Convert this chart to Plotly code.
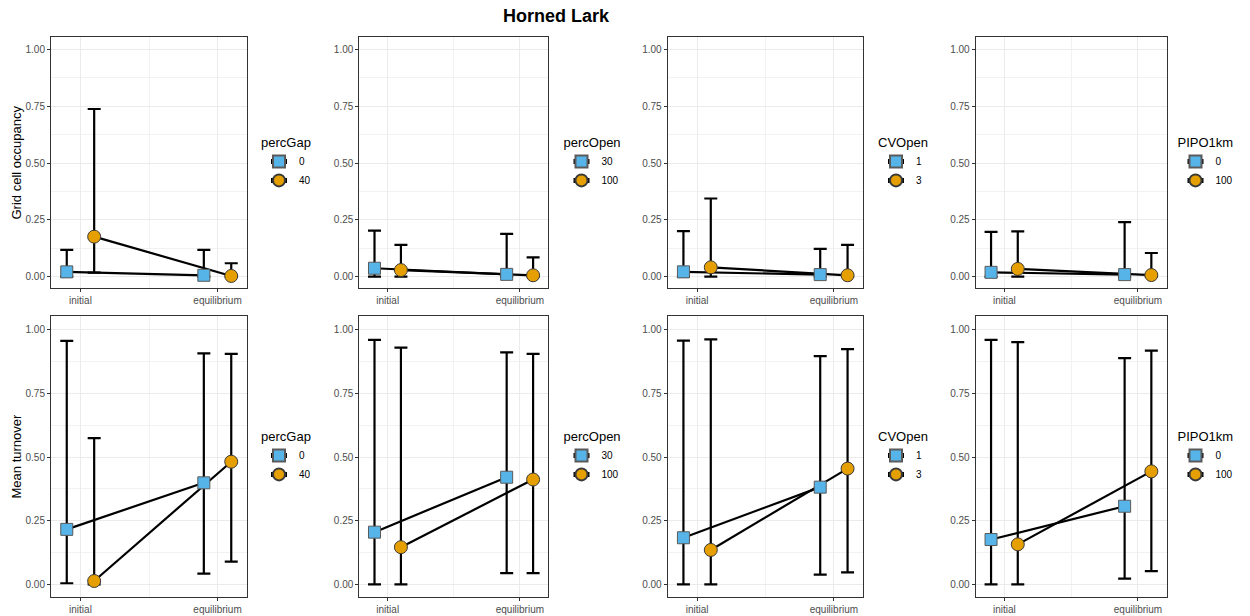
import plotly.graph_objects as go

# ---- data -------------------------------------------------------------
stages = ["initial", "equilibrium"]
factors = ["percGap", "percOpen", "CVOpen", "PIPO1km"]
levels_a = ["0", "30", "1", "0"]        # first level of each factor
levels_b = ["40", "100", "3", "100"]    # second level of each factor

# Grid cell occupancy: mean, upper and lower bounds, [initial, equilibrium]
occ_mean_a = [[0.021, 0.006], [0.037, 0.010], [0.021, 0.009], [0.019, 0.009]]
occ_upper_a = [[0.118, 0.118], [0.203, 0.188], [0.200, 0.122], [0.197, 0.240]]
occ_lower_a = [[0.000, 0.000], [0.000, 0.000], [0.000, 0.000], [0.000, 0.000]]
occ_mean_b = [[0.176, 0.003], [0.029, 0.006], [0.041, 0.006], [0.034, 0.007]]
occ_upper_b = [[0.738, 0.059], [0.140, 0.085], [0.344, 0.140], [0.199, 0.104]]
occ_lower_b = [[0.018, 0.000], [0.000, 0.000], [0.000, 0.000], [0.000, 0.000]]

# Mean turnover: mean, upper and lower bounds, [initial, equilibrium]
turn_mean_a = [[0.216, 0.399], [0.205, 0.421], [0.183, 0.382], [0.176, 0.307]]
turn_upper_a = [[0.957, 0.908], [0.961, 0.912], [0.958, 0.897], [0.961, 0.889]]
turn_lower_a = [[0.004, 0.042], [0.000, 0.044], [0.000, 0.038], [0.000, 0.022]]
turn_mean_b = [[0.013, 0.482], [0.146, 0.412], [0.135, 0.455], [0.157, 0.444]]
turn_upper_b = [[0.575, 0.906], [0.931, 0.906], [0.963, 0.925], [0.952, 0.919]]
turn_lower_b = [[0.000, 0.089], [0.000, 0.044], [0.000, 0.047], [0.000, 0.052]]

row_titles = ["Grid cell occupancy", "Mean turnover"]

# ---- styling ----------------------------------------------------------
W, H = 1250, 616
FONT = "Arial, Liberation Sans, sans-serif"
BLUE, ORANGE = "#56B4E9", "#E69F00"
stage_pos = [1, 2]
dodge = 0.1

col_px = [(51, 247), (359.3, 548.3), (667.7, 863.3), (975.7, 1166.7)]
row_px = [(37, 288), (316, 597)]
legend_x_px = [259, 561.5, 876, 1175.5]
legend_top_px = [130, 424]

fig = go.Figure()
layout = {}

rows = [
    (occ_mean_a, occ_upper_a, occ_lower_a, occ_mean_b, occ_upper_b, occ_lower_b),
    (turn_mean_a, turn_upper_a, turn_lower_a, turn_mean_b, turn_upper_b, turn_lower_b),
]

groups = [
    dict(offset=-dodge, symbol="square", color=BLUE, line="#5a5a5a", size=12),
    dict(offset=dodge, symbol="circle", color=ORANGE, line="#3a3a3a", size=13),
]

n = 0
for r, row in enumerate(rows):
    for c in range(4):
        n += 1
        xa = "x" if n == 1 else f"x{n}"
        ya = "y" if n == 1 else f"y{n}"
        leg = "legend" if n == 1 else f"legend{n}"
        series = [(row[0][c], row[1][c], row[2][c], levels_a[c]),
                  (row[3][c], row[4][c], row[5][c], levels_b[c])]

        # error bars
        for g, (mean, up, lo, _) in zip(groups, series):
            xs = [p + g["offset"] for p in stage_pos]
            fig.add_trace(go.Scatter(
                x=xs, y=mean, xaxis=xa, yaxis=ya, mode="markers",
                marker=dict(size=1, opacity=0), showlegend=False, hoverinfo="skip",
                error_y=dict(type="data", symmetric=False,
                             array=[u - m for u, m in zip(up, mean)],
                             arrayminus=[m - l for m, l in zip(mean, lo)],
                             color="black", thickness=2.2, width=6.5),
            ))
        # connecting lines
        for g, (mean, up, lo, _) in zip(groups, series):
            xs = [p + g["offset"] for p in stage_pos]
            fig.add_trace(go.Scatter(
                x=xs, y=mean, xaxis=xa, yaxis=ya, mode="lines",
                line=dict(color="black", width=2.2), showlegend=False, hoverinfo="skip",
            ))
        # points
        for g, (mean, up, lo, _) in zip(groups, series):
            xs = [p + g["offset"] for p in stage_pos]
            fig.add_trace(go.Scatter(
                x=xs, y=mean, xaxis=xa, yaxis=ya, mode="markers",
                marker=dict(symbol=g["symbol"], size=g["size"], color=g["color"],
                            line=dict(color=g["line"], width=1)),
                showlegend=False,
            ))
        # legend entries
        for g, (_, _, _, lvl) in zip(groups, series):
            fig.add_trace(go.Scatter(
                x=[None], y=[None], xaxis=xa, yaxis=ya, mode="lines+markers",
                name=lvl, legend=leg,
                line=dict(color="black", width=2, dash="0px,7px,16px,100px"),
                marker=dict(symbol=g["symbol"], size=g["size"], color=g["color"],
                            line=dict(color=g["line"], width=1)),
            ))

        x0, x1 = col_px[c]
        y0, y1 = row_px[r]
        layout[("xaxis" if n == 1 else f"xaxis{n}")] = dict(
            domain=[x0 / W, x1 / W], anchor=ya, range=[0.785, 2.215],
            tickvals=stage_pos, ticktext=stages, ticks="outside", ticklen=3,
            tickcolor="#333333", tickwidth=1,
            tickfont=dict(size=10, color="#4D4D4D", family=FONT),
            showgrid=True, gridcolor="#EBEBEB", gridwidth=1,
            minor=dict(tickvals=[1.5], showgrid=True, gridcolor="#F2F2F2", gridwidth=0.6, ticks=""),
            showline=True, linecolor="#333333", linewidth=1, mirror=True,
            zeroline=False, fixedrange=True,
        )
        layout[("yaxis" if n == 1 else f"yaxis{n}")] = dict(
            domain=[1 - y1 / H, 1 - y0 / H], anchor=xa, range=[-0.05, 1.055],
            tickvals=[0, 0.25, 0.5, 0.75, 1.0], tickformat=".2f",
            ticks="outside", ticklen=3, tickcolor="#333333", tickwidth=1,
            tickfont=dict(size=10, color="#4D4D4D", family=FONT),
            showgrid=True, gridcolor="#EBEBEB", gridwidth=1,
            minor=dict(tickvals=[0.125, 0.375, 0.625, 0.875], showgrid=True,
                       gridcolor="#F2F2F2", gridwidth=0.6, ticks=""),
            showline=True, linecolor="#333333", linewidth=1, mirror=True,
            zeroline=False, fixedrange=True,
        )
        layout[leg] = dict(
            x=legend_x_px[c] / W, xanchor="left",
            y=1 - legend_top_px[r] / H, yanchor="top",
            title=dict(text=factors[c], font=dict(size=13, color="black", family=FONT)),
            font=dict(size=10, color="black", family=FONT),
            bgcolor="rgba(0,0,0,0)", borderwidth=0, itemsizing="constant",
            tracegroupgap=0,
        )

annotations = [
    dict(text="<b>Horned Lark</b>", x=556 / W, y=1 - 16 / H, xref="paper", yref="paper",
         xanchor="center", yanchor="middle", showarrow=False,
         font=dict(size=18, color="black", family=FONT)),
]
for r, t in enumerate(row_titles):
    y0, y1 = row_px[r]
    annotations.append(dict(
        text=t, x=16 / W, y=1 - (y0 + y1) / 2 / H, xref="paper", yref="paper",
        xanchor="center", yanchor="middle", textangle=-90, showarrow=False,
        font=dict(size=13, color="black", family=FONT)))

fig.update_layout(
    width=W, height=H, margin=dict(l=0, r=0, t=0, b=0),
    paper_bgcolor="white", plot_bgcolor="white",
    annotations=annotations, **layout,
)

fig.write_html("out.html")
